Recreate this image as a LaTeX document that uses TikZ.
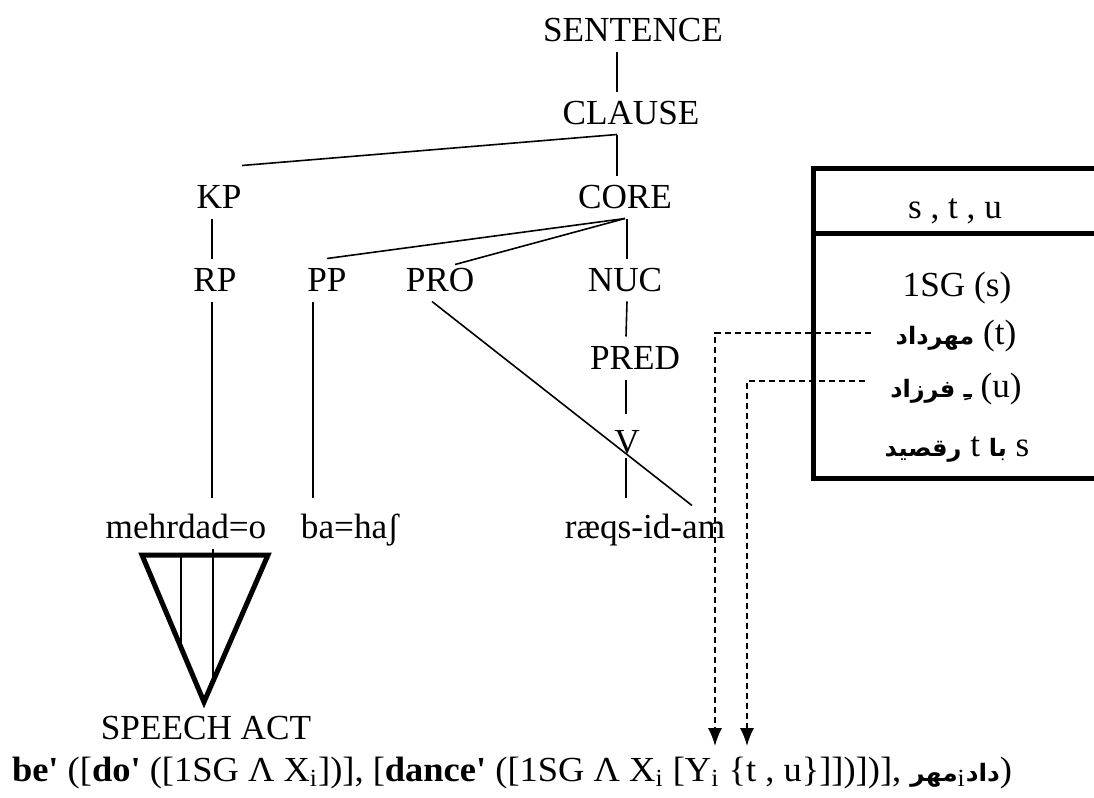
\documentclass[tikz,border=0pt]{standalone}
\usepackage{fontspec}
\usepackage{graphicx}
\setmainfont{Liberation Serif}[Ligatures=TeXOff]
\newfontfamily\arabicfont[Script=Arabic]{DejaVu Sans}
\TeXXeTstate=1
\usetikzlibrary{arrows.meta}

\newcommand{\fa}[1]{{\arabicfont\bfseries\fontsize{12}{14}\selectfont\beginR #1\endR}}

\begin{document}
\begin{tikzpicture}[x=0.5pt,y=-0.5pt,
        cat/.style={font=\fontsize{17.6}{20}\selectfont, inner sep=0pt, outer sep=5pt, text height=11.5pt, text depth=0pt},
        branch/.style={line width=0.8pt},
        heavy/.style={line width=2.5pt},
        link/.style={line width=0.75pt, dash pattern=on 3pt off 2pt, -{Latex[length=9pt,width=7pt]}}]
        \useasboundingbox (0,0) rectangle (1094,798);
        % knopen
        \node [cat] (sentence) at (633,30) {SENTENCE};
        \node [cat] (clause) at (631,113) {CLAUSE};
        \node [cat] (kp) at (219,197) {KP};
        \node [cat] (core) at (625,197) {CORE};
        \node [cat] (rp) at (215,280) {RP};
        \node [cat] (pp) at (327,280) {PP};
        \node [cat] (pro) at (440,280) {PRO};
        \node [cat] (nuc) at (625,280) {NUC};
        \node [cat] (pred) at (635,358) {PRED};
        \node [cat] (v) at (627,442) {V};
        \node [cat] (mehr) at (186,527) {mehrdad=o};
        \node [cat] (baha) at (350,527) {ba=haʃ};
        \node [cat] (raeqs) at (645,527) {ræqs-id-am};
        \node [cat] (speech) at (206,728) {SPEECH ACT};
        % takken
        \draw [branch] ([xshift=-8pt]sentence.south) -- ([xshift=-7pt]clause.north);
        \draw [branch] ([xshift=-7pt]clause.south) -- ([xshift=11.5pt,yshift=5pt]kp.north);
        \draw [branch] ([xshift=-7pt]clause.south) -- ([xshift=-4pt]core.north);
        \draw [branch] (core.south) -- (pp.north);
        \draw [branch] (core.south) -- ([xshift=7.5pt,yshift=-3pt]pro.north);
        \draw [branch] ([xshift=1pt]core.south) -- ([xshift=1pt]nuc.north);
        \draw [branch] ([xshift=-3.5pt]kp.south) -- ([xshift=-1.5pt]rp.north);
        \draw [branch] ([xshift=-1.5pt]rp.south) -- ([xshift=13pt,yshift=4pt]mehr.north);
        \draw [branch] ([xshift=-7pt]pp.south) -- ([xshift=-18.5pt,yshift=4pt]baha.north);
        \draw [branch] ([xshift=-4pt]pro.south) -- ([xshift=23.5pt]raeqs.north);
        \draw [branch] ([xshift=1pt]nuc.south) -- ([xshift=-4.5pt]pred.north);
        \draw [branch] ([xshift=-4.5pt]pred.south) -- ([xshift=-0.5pt,yshift=3.5pt]v.north);
        \draw [branch] ([xshift=-0.5pt,yshift=2.75pt]v.south) -- ([xshift=-9.5pt,yshift=4pt]raeqs.north);
        % driehoek
        \coordinate (tl) at (142,555);
        \coordinate (tr) at (268,555);
        \coordinate (tb) at (204,702);
        \coordinate (la) at (181,555);
        \coordinate (lb) at (181,720);
        \coordinate (ra) at (213,549);
        \coordinate (rb) at (213,720);
        \draw [heavy] (tl) -- (tr) -- (tb) -- cycle;
        \draw [branch] (la) -- (intersection of la--lb and tl--tb);
        \draw [branch] (ra) -- (intersection of ra--rb and tr--tb);
        % kader
        \draw [heavy] (1098,168) -- (813,168) -- (813,478) -- (1098,478);
        \draw [heavy] (813,233) -- (1098,233);
        \node [cat] (vars) at (955,207) {s , t , u};
        \node [cat] (rows) at (957,285) {1SG (s)};
        \node [cat] (rowt) at (956,333) {\fa{مهرداد} (t)};
        \node [cat] (rowu) at (956,386) {\fa{ـِ فرزاد} (u)};
        \node [cat] (rowst) at (957,445) {\beginR s \fa{با} t \fa{رقصید}\endR};
        % formule
        \node [cat, anchor=west, outer sep=0pt] (formula) at (12,770) {\resizebox{500pt}{\height}{\textbf{be'} ([\textbf{do'} ([1SG Λ X\textsubscript{i}])], [\textbf{dance'} ([1SG Λ X\textsubscript{i} [Y\textsubscript{i} \{t , u\}]])])], \fa{مهر}\textsubscript{i}\fa{داد})}};
        % pijlen
        \coordinate (tipt) at (715,746);
        \coordinate (tipu) at (747,746);
        \draw [link] ([xshift=-7.5pt]rowt.west) -| (tipt);
        \draw [link] ([xshift=-7.5pt,yshift=2.5pt]rowu.west) -| (tipu);
    \end{tikzpicture}
\end{document}
